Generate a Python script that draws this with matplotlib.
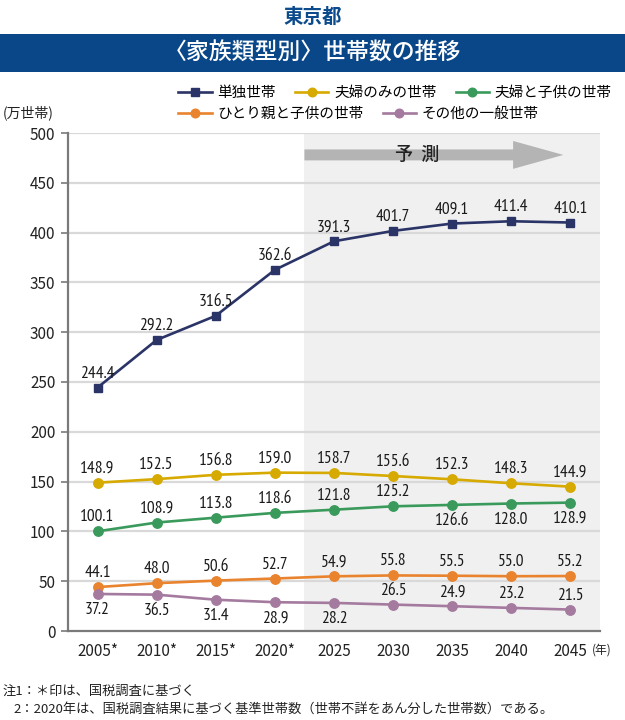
import matplotlib
matplotlib.use("Agg")
import matplotlib.pyplot as plt
from matplotlib import font_manager
from matplotlib.lines import Line2D
from matplotlib.patches import Polygon, Rectangle

plt.rcParams['font.family'] = ['Noto Sans CJK JP', 'DejaVu Sans']

available = {f.name for f in font_manager.fontManager.ttflist}
NUMFONT = [n for n in ['PT Sans Narrow', 'Fira Sans Extra Condensed', 'Roboto Condensed'] if n in available][:1] \
    or ['Noto Sans CJK JP']

# ---------------- data ----------------
years = ["2005*", "2010*", "2015*", "2020*", "2025", "2030", "2035", "2040", "2045"]
single = [244.4, 292.2, 316.5, 362.6, 391.3, 401.7, 409.1, 411.4, 410.1]
couple_only = [148.9, 152.5, 156.8, 159.0, 158.7, 155.6, 152.3, 148.3, 144.9]
couple_child = [100.1, 108.9, 113.8, 118.6, 121.8, 125.2, 126.6, 128.0, 128.9]
single_parent = [44.1, 48.0, 50.6, 52.7, 54.9, 55.8, 55.5, 55.0, 55.2]
other = [37.2, 36.5, 31.4, 28.9, 28.2, 26.5, 24.9, 23.2, 21.5]
series_names = ["単独世帯", "夫婦のみの世帯", "夫婦と子供の世帯", "ひとり親と子供の世帯", "その他の一般世帯"]
yticks = [0, 50, 100, 150, 200, 250, 300, 350, 400, 450, 500]

series = [single, couple_only, couple_child, single_parent, other]
colors = ["#2b3467", "#d6aa00", "#3a9a5c", "#e9832e", "#a57a9f"]
markers = ["s", "o", "o", "o", "o"]
# label placement: +1 above, -1 below
placement = [
    [1] * 9,
    [1] * 9,
    [1, 1, 1, 1, 1, 1, -1, -1, -1],
    [1] * 9,
    [-1, -1, -1, -1, -1, 1, 1, 1, 1],
]

fig = plt.figure(figsize=(6.25, 7.2), dpi=100)
ax = fig.add_axes([68 / 625, 1 - 631 / 720, 532 / 625, 498 / 720])

x = list(range(len(years)))
ax.set_xlim(-0.5, 8.5)
ax.set_ylim(0, 500)

# forecast shading
ax.axvspan(3.5, 8.5, color="#f0f0f0", zorder=0, lw=0)

# grid
for yv in yticks[1:]:
    ax.axhline(yv, color="#d9d9d9", lw=1.6, zorder=1)

for vals, c, m, pl in zip(series, colors, markers, placement):
    ax.plot(x, vals, color=c, lw=1.9, marker=m, ms=6.2 if m == "s" else 6.8,
            markeredgecolor=c, zorder=3, clip_on=False)
    for xi, v, p in zip(x, vals, pl):
        off = 14 if p > 0 else -16
        ax.annotate(f"{v:.1f}", (xi, v), xytext=(0, off), textcoords="offset pixels",
                    ha="center", va="center", fontsize=12.5, family=NUMFONT, color="#1a1a1a", zorder=4)

# forecast arrow
yc, sh, hh = 478, 5.5, 14
xs, xh, xe = 3.5, 7.03, 7.88
arrow = Polygon([(xs, yc - sh), (xh, yc - sh), (xh, yc - hh), (xe, yc), (xh, yc + hh),
                 (xh, yc + sh), (xs, yc + sh)], closed=True, color="#b4b4b4", lw=0, zorder=2)
ax.add_patch(arrow)
ax.text(5.4, yc, "予  測", ha="center", va="center", fontsize=13, color="#222222",
        fontweight="medium", zorder=3)

# axes styling
for s in ["top", "right"]:
    ax.spines[s].set_visible(False)
for s in ["left", "bottom"]:
    ax.spines[s].set_color("#7a7a7a")
    ax.spines[s].set_linewidth(1.6)
ax.spines["left"].set_zorder(5)
ax.spines["bottom"].set_zorder(5)
ax.set_yticks(yticks)
ax.set_yticklabels([str(t) for t in yticks])
ax.tick_params(axis="y", length=5, width=1.2, color="#7a7a7a", labelsize=11, labelcolor="#222222", pad=4)
ax.set_xticks(x)
ax.set_xticklabels(years)
ax.tick_params(axis="x", length=0, labelsize=11, labelcolor="#222222", pad=9)

fig.text(602 / 625, 1 - 650 / 720, "(年)", ha="center", va="center", fontsize=8.5, color="#222222")
fig.text(28 / 625, 1 - 113 / 720, "(万世帯)", ha="center", va="center", fontsize=10, color="#222222")

# header
fig.text(0.5, 1 - 17 / 720, "東京都", ha="center", va="center", fontsize=14, fontweight="bold", color="#0b4a8b")
fig.patches.append(Rectangle((0, 1 - 72 / 720), 1, 38 / 720, transform=fig.transFigure,
                             color="#0a4789", lw=0, zorder=0))
fig.text(0.5, 1 - 53 / 720, "〈家族類型別〉世帯数の推移", ha="center", va="center", fontsize=16.5,
         color="white", fontweight="medium")

# legend
handles = [Line2D([0], [0], color=c, lw=1.9, marker=m, ms=6.2, markeredgecolor=c)
           for c, m in zip(colors, markers)]
fig.legend(handles[:3], series_names[:3], loc="center left", bbox_to_anchor=(178 / 625, 1 - 93 / 720),
           ncol=3, frameon=False, fontsize=10.5, handlelength=2.3, handletextpad=0.4,
           columnspacing=1.3, borderaxespad=0, borderpad=0)
fig.legend(handles[3:], series_names[3:], loc="center left", bbox_to_anchor=(178 / 625, 1 - 114 / 720),
           ncol=2, frameon=False, fontsize=10.5, handlelength=2.3, handletextpad=0.4,
           columnspacing=1.3, borderaxespad=0, borderpad=0)

# notes
fig.text(3 / 625, 1 - 691 / 720, "注1：＊印は、国税調査に基づく", ha="left", va="center", fontsize=9.5, color="#222222")
fig.text(13 / 625, 1 - 709 / 720, "2：2020年は、国税調査結果に基づく基準世帯数（世帯不詳をあん分した世帯数）である。",
         ha="left", va="center", fontsize=9.5, color="#222222")

fig.savefig("out.png", dpi=100, facecolor="white")
